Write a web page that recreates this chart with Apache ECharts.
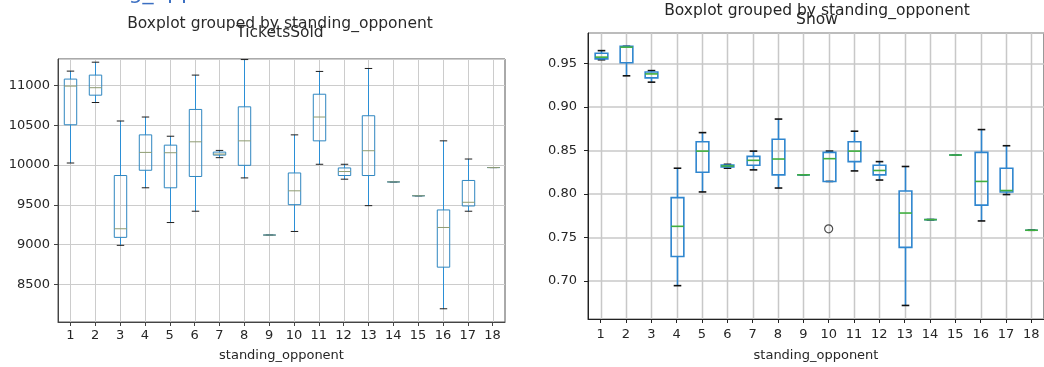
<!DOCTYPE html>
<html>
<head>
<meta charset="utf-8">
<script src="https://cdn.jsdelivr.net/npm/echarts@6/dist/echarts.min.js"></script>
<style>
  html, body { margin: 0; padding: 0; background: #ffffff; }
  #chart { width: 1044px; height: 367px; }
</style>
</head>
<body>
<div id="chart"></div>
<script>
// Group labels (standing_opponent)
const categories = ['1','2','3','4','5','6','7','8','9','10','11','12','13','14','15','16','17','18'];

// TicketsSold: whisker low, Q1, median, Q3, whisker high per group
const ticketsLow    = [10025, 10784,  8992,  9714,  9278,  9420, 10092,  9838, 9121,  9166, 10009, 9822,  9490, 9788, 9614, 8196,  9420, 9968];
const ticketsQ1     = [10505, 10876,  9092,  9934,  9714,  9856, 10124,  9996, 9121,  9502, 10303, 9868,  9868, 9788, 9614, 8718,  9486, 9968];
const ticketsMedian = [10990, 10970,  9200, 10158, 10154, 10291, 10137, 10303, 9121,  9676, 10602, 9918, 10179, 9788, 9614, 9216,  9532, 9968];
const ticketsQ3     = [11078, 11128,  9868, 10378, 10249, 10697, 10162, 10730, 9121,  9900, 10888, 9963, 10618, 9788, 9614, 9436,  9806, 9968];
const ticketsHigh   = [11178, 11290, 10552, 10602, 10361, 11128, 10183, 11323, 9121, 10378, 11174, 10009, 11211, 9788, 9614, 10303, 10075, 9968];

// Show rate: whisker low, Q1, median, Q3, whisker high per group
const showLow    = [0.9545, 0.936, 0.9287, 0.6944, 0.8023, 0.8296, 0.8277, 0.8068, 0.822, 0.8144, 0.8265, 0.816, 0.6716, 0.7704, 0.8448, 0.7689, 0.7993, 0.7582];
const showQ1     = [0.9555, 0.951, 0.9336, 0.7279, 0.8250, 0.8311, 0.8330, 0.8220, 0.822, 0.8144, 0.8372, 0.822, 0.7385, 0.7704, 0.8448, 0.7871, 0.8023, 0.7582];
const showMedian = [0.9575, 0.969, 0.9382, 0.7627, 0.8493, 0.8322, 0.8387, 0.8402, 0.822, 0.8406, 0.8493, 0.827, 0.7780, 0.7704, 0.8448, 0.8144, 0.8039, 0.7582];
const showQ3     = [0.9620, 0.970, 0.9404, 0.7958, 0.8600, 0.8334, 0.8433, 0.8630, 0.822, 0.8478, 0.8600, 0.833, 0.8034, 0.7704, 0.8448, 0.8478, 0.8296, 0.7582];
const showHigh   = [0.9650, 0.970, 0.9420, 0.8296, 0.8706, 0.8341, 0.8493, 0.8862, 0.822, 0.8493, 0.8722, 0.8372, 0.8316, 0.7704, 0.8448, 0.8741, 0.8555, 0.7582];

// Fliers beyond the whiskers: [group, value]
const showOutliers = [['10', 0.7598]];

const FONT = "'DejaVu Sans', sans-serif";

function rows(low, q1, med, q3, high) {
  return categories.map((c, i) => [i, low[i], q1[i], med[i], q3[i], high[i]]);
}

// Draws one box: whiskers, caps, box outline and median line
function boxRenderer(st) {
  return function (params, api) {
    const i = api.value(0);
    const pLow = api.coord([i, api.value(1)]);
    const pQ1 = api.coord([i, api.value(2)]);
    const pMed = api.coord([i, api.value(3)]);
    const pQ3 = api.coord([i, api.value(4)]);
    const pHigh = api.coord([i, api.value(5)]);
    const band = api.size([1, 0])[0];
    const cx = Math.round(pLow[0]) + 0.5;
    const hb = band * 0.25;
    const hc = band * 0.15;
    const seg = (x1, y1, x2, y2, stroke) => ({
      type: 'line',
      shape: { x1: x1, y1: y1, x2: x2, y2: y2 },
      style: { stroke: stroke, lineWidth: st.width }
    });
    return {
      type: 'group',
      children: [
        seg(cx, pQ1[1], cx, pLow[1], st.whisker),
        seg(cx, pQ3[1], cx, pHigh[1], st.whisker),
        seg(cx - hc, pLow[1], cx + hc, pLow[1], st.cap),
        seg(cx - hc, pHigh[1], cx + hc, pHigh[1], st.cap),
        {
          type: 'rect',
          shape: { x: cx - hb, y: pQ3[1], width: 2 * hb, height: pQ1[1] - pQ3[1] },
          style: { fill: 'none', stroke: st.box, lineWidth: st.width }
        },
        seg(cx - hb, pMed[1], cx + hb, pMed[1], st.median)
      ]
    };
  };
}

// Vertical grid line through each category tick
function gridRenderer(color, width) {
  return function (params, api) {
    const cs = params.coordSys;
    const p = api.coord([api.value(0), 0]);
    const x = Math.round(p[0]) + 0.5;
    return {
      type: 'line',
      shape: { x1: x, y1: cs.y, x2: x, y2: cs.y + cs.height },
      style: { stroke: color, lineWidth: width }
    };
  };
}

function xAxisFor(gridIndex, frame, labelMargin, nameGap) {
  return {
    type: 'category',
    gridIndex: gridIndex,
    data: categories,
    boundaryGap: true,
    name: 'standing_opponent',
    nameLocation: 'middle',
    nameGap: nameGap,
    nameTextStyle: { fontFamily: FONT, fontSize: 13, color: '#262626' },
    axisLine: { show: true, lineStyle: { color: frame, width: 1 } },
    axisTick: { show: true, alignWithLabel: true, inside: false, length: 4, lineStyle: { color: frame } },
    axisLabel: { fontFamily: FONT, fontSize: 13, color: '#262626', margin: labelMargin, interval: 0 },
    splitLine: { show: false }
  };
}

function yAxisFor(gridIndex, min, max, frame, labelMargin, fmt, gridColor, gridWidth) {
  return {
    type: 'value',
    gridIndex: gridIndex,
    min: min,
    max: max,
    splitNumber: 5,
    axisLine: { show: true, lineStyle: { color: frame, width: 1 } },
    axisTick: { show: true, inside: false, length: 4, lineStyle: { color: frame } },
    axisLabel: {
      fontFamily: FONT, fontSize: 13, color: '#262626', margin: labelMargin,
      showMinLabel: false, showMaxLabel: false, formatter: fmt
    },
    splitLine: { show: true, lineStyle: { color: gridColor, width: gridWidth } }
  };
}

const chart = echarts.init(document.getElementById('chart'), null, { renderer: 'canvas' });

chart.setOption({
  animation: false,
  backgroundColor: '#ffffff',
  grid: [
    { left: 58, top: 59, width: 447, height: 264, show: true, borderColor: '#555555', borderWidth: 1, backgroundColor: 'transparent' },
    { left: 588, top: 33, width: 461, height: 289, show: true, borderColor: '#333333', borderWidth: 1, backgroundColor: 'transparent' }
  ],
  xAxis: [
    xAxisFor(0, '#444444', 7, 27),
    xAxisFor(1, '#222222', 9, 30)
  ],
  yAxis: [
    yAxisFor(0, 8030, 11330, '#444444', 8, v => String(Math.round(v)), '#cccccc', 1),
    yAxisFor(1, 0.656, 0.9853, '#222222', 11, v => v.toFixed(2), '#c8c8c8', 1.5)
  ],
  series: [
    {
      type: 'custom',
      xAxisIndex: 0,
      yAxisIndex: 0,
      renderItem: gridRenderer('#cccccc', 1),
      data: categories.map((c, i) => [i]),
      silent: true,
      z: 1
    },
    {
      type: 'custom',
      xAxisIndex: 1,
      yAxisIndex: 1,
      renderItem: gridRenderer('#c8c8c8', 1.5),
      data: categories.map((c, i) => [i]),
      silent: true,
      z: 1
    },
    {
      type: 'custom',
      xAxisIndex: 0,
      yAxisIndex: 0,
      renderItem: boxRenderer({ box: '#2f86c0', whisker: '#2b8fd6', cap: '#1e1e1e', median: '#8f9c72', width: 1 }),
      encode: { x: 0, y: [1, 2, 3, 4, 5] },
      data: rows(ticketsLow, ticketsQ1, ticketsMedian, ticketsQ3, ticketsHigh),
      z: 3
    },
    {
      type: 'custom',
      xAxisIndex: 1,
      yAxisIndex: 1,
      renderItem: boxRenderer({ box: '#2f86cf', whisker: '#2f86cf', cap: '#111111', median: '#3fae3f', width: 1.6 }),
      encode: { x: 0, y: [1, 2, 3, 4, 5] },
      data: rows(showLow, showQ1, showMedian, showQ3, showHigh),
      z: 3
    },
    {
      type: 'scatter',
      xAxisIndex: 1,
      yAxisIndex: 1,
      symbol: 'circle',
      symbolSize: 8,
      itemStyle: { color: 'rgba(0,0,0,0)', borderColor: '#222222', borderWidth: 1.2 },
      data: showOutliers,
      z: 4
    }
  ],
  graphic: [
    {
      type: 'text', x: 47, y: 4,
      style: { text: 'standing_opponent', font: "22px 'DejaVu Sans', sans-serif", fill: '#3b6fc2', textAlign: 'left', textVerticalAlign: 'bottom' }
    },
    {
      type: 'text', x: 280, y: 23.5,
      style: { text: 'Boxplot grouped by standing_opponent', font: "15.5px 'DejaVu Sans', sans-serif", fill: '#2a2a2a', textAlign: 'center', textVerticalAlign: 'middle' }
    },
    {
      type: 'text', x: 280, y: 32.5,
      style: { text: 'TicketsSold', font: "15.5px 'DejaVu Sans', sans-serif", fill: '#2a2a2a', textAlign: 'center', textVerticalAlign: 'middle' }
    },
    {
      type: 'text', x: 817, y: 11,
      style: { text: 'Boxplot grouped by standing_opponent', font: "15.5px 'DejaVu Sans', sans-serif", fill: '#262626', textAlign: 'center', textVerticalAlign: 'middle' }
    },
    {
      type: 'text', x: 817, y: 19.5,
      style: { text: 'Show', font: "15.5px 'DejaVu Sans', sans-serif", fill: '#262626', textAlign: 'center', textVerticalAlign: 'middle' }
    }
  ]
});
</script>
</body>
</html>
